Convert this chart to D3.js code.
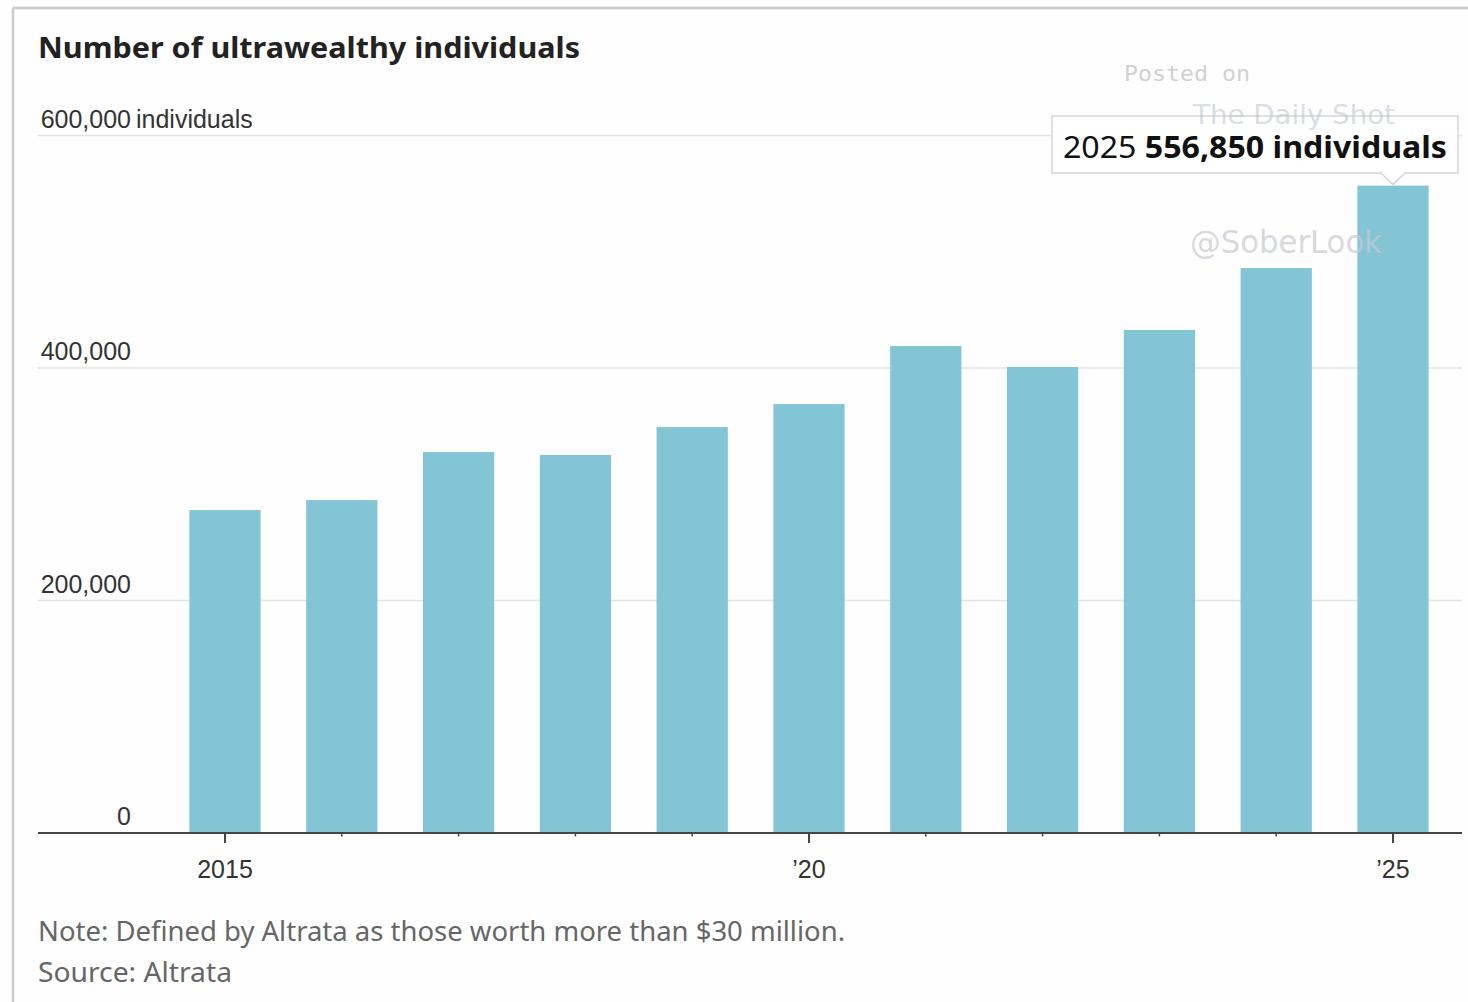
<!DOCTYPE html>
<html>
<head>
<meta charset="utf-8">
<script src="https://cdn.jsdelivr.net/npm/d3@7"></script>
<style>
  html, body { margin: 0; padding: 0; background: #ffffff; }
  svg { display: block; }
</style>
</head>
<body>
<script>
// Number of ultrawealthy individuals by year (Altrata)
const years = [2015, 2016, 2017, 2018, 2019, 2020, 2021, 2022, 2023, 2024, 2025];
const individuals = [277800, 286400, 327700, 325200, 349200, 369000, 418900, 400900, 432700, 486000, 556850];
const yTicks = [0, 200000, 400000, 600000];
const xLabelYears = [2015, 2020, 2025];
const xLabelText = ["2015", "\u201920", "\u201925"];

const W = 1468, H = 1002;
const svg = d3.select("body").append("svg").attr("width", W).attr("height", H);

// page frame
svg.append("rect").attr("width", W).attr("height", H).attr("fill", "#fefefe");
svg.append("line").attr("x1", 13).attr("x2", W).attr("y1", 8).attr("y2", 8)
  .attr("stroke", "#c9c9c9").attr("stroke-width", 2.5);
svg.append("line").attr("x1", 13).attr("x2", 13).attr("y1", 8).attr("y2", H)
  .attr("stroke", "#c9c9c9").attr("stroke-width", 2.5);

const sans = "'Noto Sans', 'Open Sans', sans-serif";
const narrow = "'Liberation Sans', Arial, sans-serif";

// title
svg.append("text").attr("x", 38).attr("y", 58)
  .attr("font-family", sans).attr("font-weight", 700).attr("font-size", 29)
  .attr("fill", "#222").attr("textLength", 542).attr("lengthAdjust", "spacingAndGlyphs")
  .text("Number of ultrawealthy individuals");

const plotLeft = 38, plotRight = 1462;
const y = d3.scaleLinear().domain([0, 600000]).range([833, 135.5]);
const x = d3.scaleBand().domain(years).range([166.6, 1451.4])
  .paddingInner(0.39).paddingOuter(0.195);

// gridlines
svg.append("g").selectAll("line").data(yTicks.filter(d => d > 0)).join("line")
  .attr("x1", plotLeft).attr("x2", plotRight)
  .attr("y1", d => y(d)).attr("y2", d => y(d))
  .attr("stroke", "#e3e3e3").attr("stroke-width", 1.5);

// y labels (right-aligned numbers sitting above gridlines)
const fmt = d3.format(",");
const yl = svg.append("g").attr("font-family", narrow).attr("font-size", 25).attr("fill", "#333");
yl.selectAll("text").data(yTicks).join("text")
  .attr("x", 131).attr("y", d => y(d) - 8).attr("text-anchor", "end")
  .text(d => fmt(d));
yl.append("text").attr("x", 136).attr("y", y(600000) - 8).text("individuals");

// bars
svg.append("g").selectAll("rect").data(years).join("rect")
  .attr("x", d => x(d)).attr("width", x.bandwidth())
  .attr("y", (d, i) => y(individuals[i]))
  .attr("height", (d, i) => y(0) - y(individuals[i]))
  .attr("fill", "#84c5d5");

// x axis
const ax = svg.append("g");
ax.append("line").attr("x1", plotLeft).attr("x2", plotRight)
  .attr("y1", y(0)).attr("y2", y(0)).attr("stroke", "#444").attr("stroke-width", 2);
ax.selectAll("line.tick").data(years).join("line").attr("class", "tick")
  .attr("x1", d => x(d) + x.bandwidth() / 2).attr("x2", d => x(d) + x.bandwidth() / 2)
  .attr("y1", y(0)).attr("y2", d => y(0) + (xLabelYears.includes(d) ? 10 : 3.5))
  .attr("stroke", "#444").attr("stroke-width", d => xLabelYears.includes(d) ? 2 : 1.5);
ax.selectAll("text").data(xLabelYears).join("text")
  .attr("x", d => x(d) + x.bandwidth() / 2).attr("y", 878)
  .attr("text-anchor", "middle").attr("font-family", narrow).attr("font-size", 25)
  .attr("fill", "#333").text((d, i) => xLabelText[i]);

// notes
svg.append("text").attr("x", 38).attr("y", 941)
  .attr("font-family", sans).attr("font-size", 26.5).attr("fill", "#666")
  .attr("textLength", 807).attr("lengthAdjust", "spacingAndGlyphs")
  .text("Note: Defined by Altrata as those worth more than $30 million.");
svg.append("text").attr("x", 38).attr("y", 982)
  .attr("font-family", sans).attr("font-size", 26.5).attr("fill", "#666")
  .attr("textLength", 194).attr("lengthAdjust", "spacingAndGlyphs")
  .text("Source: Altrata");

// tooltip on the latest bar
const last = years.length - 1;
const tipX = x(years[last]) + x.bandwidth() / 2;
const tipY = y(individuals[last]);
const tip = svg.append("g");
tip.append("rect").attr("x", 1052).attr("y", 116).attr("width", 406).attr("height", 57)
  .attr("fill", "#ffffff").attr("stroke", "#d6d6d6").attr("stroke-width", 1.5);
tip.append("path")
  .attr("d", `M${tipX - 12},173 L${tipX},${tipY - 1} L${tipX + 12},173`)
  .attr("fill", "#ffffff").attr("stroke", "#d6d6d6").attr("stroke-width", 1.5);
tip.append("line").attr("x1", tipX - 11).attr("x2", tipX + 11).attr("y1", 173).attr("y2", 173)
  .attr("stroke", "#ffffff").attr("stroke-width", 2);
const tt = tip.append("text").attr("x", 1063).attr("y", 158)
  .attr("font-family", sans).attr("font-size", 31).attr("fill", "#111")
  .attr("textLength", 384).attr("lengthAdjust", "spacingAndGlyphs");
tt.append("tspan").attr("font-weight", 400).text(years[last] + " ");
tt.append("tspan").attr("font-weight", 700).text(fmt(individuals[last]) + " individuals");

// watermark
const wm = svg.append("g").attr("pointer-events", "none");
wm.append("text").attr("x", 1124).attr("y", 81)
  .attr("font-family", "'DejaVu Sans Mono', monospace").attr("font-size", 22)
  .attr("fill", "#c4c4c4").attr("fill-opacity", 0.8)
  .attr("textLength", 126).attr("lengthAdjust", "spacingAndGlyphs").text("Posted on");
wm.append("text").attr("x", 1193).attr("y", 124)
  .attr("font-family", "'DejaVu Sans', sans-serif").attr("font-size", 26)
  .attr("fill", "#b9c0d0").attr("fill-opacity", 0.55)
  .attr("textLength", 202).attr("lengthAdjust", "spacingAndGlyphs").text("The Daily Shot");
wm.append("text").attr("x", 1190).attr("y", 253)
  .attr("font-family", "'DejaVu Sans', sans-serif").attr("font-size", 32)
  .attr("fill", "#c8c8d2").attr("fill-opacity", 0.7)
  .attr("textLength", 192).attr("lengthAdjust", "spacingAndGlyphs").text("@SoberLook");
</script>
</body>
</html>
